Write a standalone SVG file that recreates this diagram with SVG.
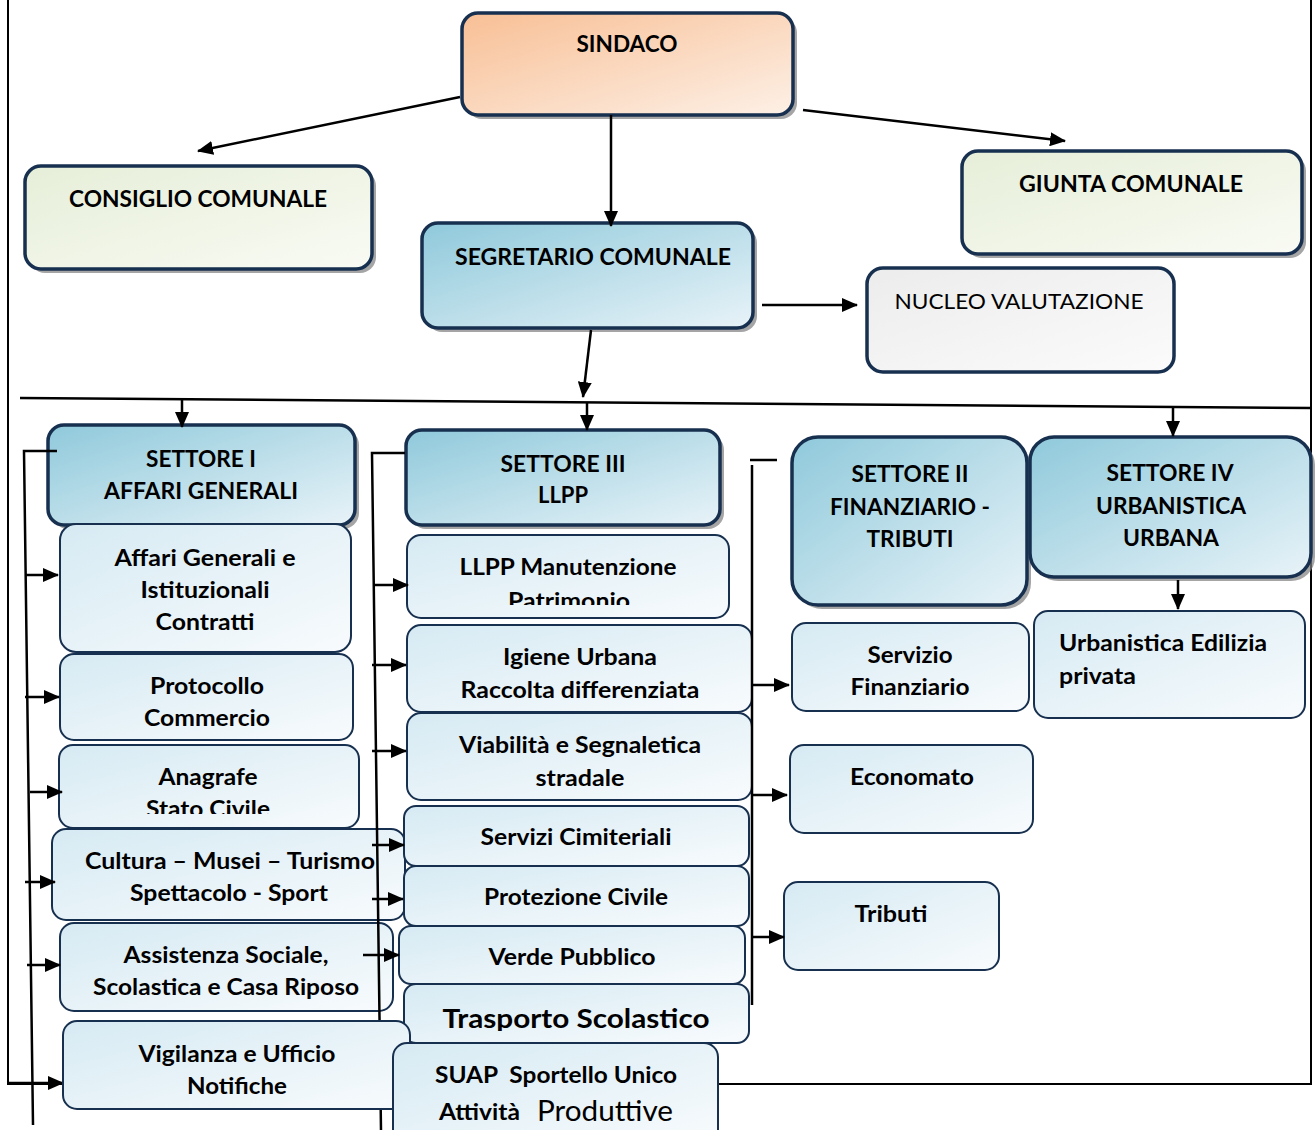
<svg xmlns="http://www.w3.org/2000/svg" width="1316" height="1130" viewBox="0 0 1316 1130">
<defs>
<linearGradient id="gOrange" x1="0" y1="0" x2="1" y2="1"><stop offset="0" stop-color="#f8bf95"/><stop offset="1" stop-color="#fdf0e6"/></linearGradient>
<linearGradient id="gGreen" x1="0" y1="0" x2="1" y2="1"><stop offset="0" stop-color="#e6eed8"/><stop offset="1" stop-color="#f9fbf4"/></linearGradient>
<linearGradient id="gGray" x1="0" y1="0" x2="1" y2="1"><stop offset="0" stop-color="#ececec"/><stop offset="1" stop-color="#fbfbfb"/></linearGradient>
<linearGradient id="gBlue" x1="0" y1="0" x2="1" y2="1"><stop offset="0" stop-color="#8fc9db"/><stop offset="1" stop-color="#e8f3f8"/></linearGradient>
<linearGradient id="gLight" x1="0" y1="0" x2="1" y2="1"><stop offset="0" stop-color="#d6eaf3"/><stop offset="1" stop-color="#f8fbfd"/></linearGradient>
<marker id="ah" viewBox="0 0 16 14" markerWidth="16" markerHeight="14" refX="15" refY="7" orient="auto" markerUnits="userSpaceOnUse"><path d="M0,0 L16,7 L0,14 z" fill="#000"/></marker>
<clipPath id="cAnag"><rect x="0" y="0" width="1316" height="814"/></clipPath>
<clipPath id="cPatr"><rect x="0" y="0" width="1316" height="605"/></clipPath>
<clipPath id="cTrasp"><rect x="0" y="0" width="1316" height="1031"/></clipPath>
</defs>
<style>
text{font-family:Lato,"Liberation Sans",sans-serif;font-weight:bold;font-size:22px;fill:#000;text-anchor:middle}
.reg{font-weight:normal}
.st{text-anchor:start}
.main{stroke:#17304f;stroke-width:3.5}
.sub{stroke:#17304f;stroke-width:2;fill:url(#gLight)}
.shadow{fill:#7f7f7f;opacity:0.7}
.conn line,.conn path{stroke:#000;stroke-width:2.5;fill:none}
.arr{marker-end:url(#ah)}
</style>
<rect width="1316" height="1130" fill="#fff"/>
<path d="M8,0 V1084 H1311 V0" fill="none" stroke="#000" stroke-width="2"/>

<g id="sindaco"><rect class="shadow" x="466" y="17" width="331" height="102" rx="16"/><rect class="main" x="462" y="13" width="331" height="102" rx="16" fill="url(#gOrange)"/><text x="627" y="52" textLength="101" lengthAdjust="spacingAndGlyphs">SINDACO</text></g>
<g id="consiglio"><rect class="shadow" x="29" y="170" width="347" height="103" rx="16"/><rect class="main" x="25" y="166" width="347" height="103" rx="16" fill="url(#gGreen)"/><text x="198" y="207" textLength="258" lengthAdjust="spacingAndGlyphs">CONSIGLIO COMUNALE</text></g>
<g id="giunta"><rect class="shadow" x="966" y="155" width="340" height="103" rx="16"/><rect class="main" x="962" y="151" width="340" height="103" rx="16" fill="url(#gGreen)"/><text x="1131" y="192" textLength="224" lengthAdjust="spacingAndGlyphs">GIUNTA COMUNALE</text></g>
<g id="segretario"><rect class="shadow" x="426" y="227" width="331" height="105" rx="16"/><rect class="main" x="422" y="223" width="331" height="105" rx="16" fill="url(#gBlue)"/><text x="593" y="265" textLength="276" lengthAdjust="spacingAndGlyphs">SEGRETARIO COMUNALE</text></g>
<g id="nucleo"><rect class="main" x="867" y="268" width="307" height="104" rx="16" fill="url(#gGray)"/><text class="reg" x="1019" y="309" textLength="249" lengthAdjust="spacingAndGlyphs">NUCLEO VALUTAZIONE</text></g>

<g id="settore1"><rect class="shadow" x="52" y="429" width="307" height="100" rx="16"/><rect class="main" x="48" y="425" width="307" height="100" rx="16" fill="url(#gBlue)"/><text x="201" y="467" textLength="110" lengthAdjust="spacingAndGlyphs">SETTORE I</text><text x="201" y="499" textLength="194" lengthAdjust="spacingAndGlyphs">AFFARI GENERALI</text></g>
<g id="affari"><rect class="sub" x="60" y="524" width="291" height="128" rx="16"/><text x="205" y="566" textLength="181" lengthAdjust="spacingAndGlyphs">Affari Generali e</text><text x="205" y="598" textLength="129" lengthAdjust="spacingAndGlyphs">Istituzionali</text><text x="205" y="630" textLength="99" lengthAdjust="spacingAndGlyphs">Contratti</text></g>
<g id="protocollo"><rect class="sub" x="60" y="654" width="293" height="86" rx="14"/><text x="207" y="694" textLength="114" lengthAdjust="spacingAndGlyphs">Protocollo</text><text x="207" y="726" textLength="126" lengthAdjust="spacingAndGlyphs">Commercio</text></g>
<g id="anagrafe"><rect class="sub" x="59" y="745" width="300" height="83" rx="14"/><text x="208" y="785" textLength="99" lengthAdjust="spacingAndGlyphs">Anagrafe</text><text x="208" y="817" textLength="124" lengthAdjust="spacingAndGlyphs" clip-path="url(#cAnag)">Stato Civile</text></g>
<g id="cultura"><rect class="sub" x="52" y="829" width="353" height="91" rx="14"/><text x="230" y="869" textLength="290" lengthAdjust="spacingAndGlyphs">Cultura – Musei – Turismo</text><text x="229" y="901" textLength="198" lengthAdjust="spacingAndGlyphs">Spettacolo - Sport</text></g>
<g id="assistenza"><rect class="sub" x="60" y="923" width="333" height="88" rx="14"/><text x="226" y="963" textLength="205" lengthAdjust="spacingAndGlyphs">Assistenza Sociale,</text><text x="226" y="995" textLength="266" lengthAdjust="spacingAndGlyphs">Scolastica e Casa Riposo</text></g>

<g id="settore3"><rect class="shadow" x="410" y="434" width="314" height="95" rx="16"/><rect class="main" x="406" y="430" width="314" height="95" rx="16" fill="url(#gBlue)"/><text x="563" y="472" textLength="125" lengthAdjust="spacingAndGlyphs">SETTORE III</text><text x="563" y="503" textLength="50" lengthAdjust="spacingAndGlyphs">LLPP</text></g>
<g id="llpp"><rect class="sub" x="407" y="535" width="322" height="83" rx="14"/><text x="568" y="575" textLength="217" lengthAdjust="spacingAndGlyphs">LLPP Manutenzione</text><text x="569" y="609" textLength="122" lengthAdjust="spacingAndGlyphs" clip-path="url(#cPatr)">Patrimonio</text></g>
<g id="igiene"><rect class="sub" x="407" y="625" width="345" height="87" rx="14"/><text x="580" y="665" textLength="154" lengthAdjust="spacingAndGlyphs">Igiene Urbana</text><text x="580" y="698" textLength="239" lengthAdjust="spacingAndGlyphs">Raccolta differenziata</text></g>
<g id="viabilita"><rect class="sub" x="407" y="713" width="345" height="87" rx="14"/><text x="580" y="753" textLength="242" lengthAdjust="spacingAndGlyphs">Viabilità e Segnaletica</text><text x="580" y="786" textLength="89" lengthAdjust="spacingAndGlyphs">stradale</text></g>
<g id="cimiteriali"><rect class="sub" x="404" y="806" width="345" height="60" rx="12"/><text x="576" y="845" textLength="191" lengthAdjust="spacingAndGlyphs">Servizi Cimiteriali</text></g>
<g id="protezione"><rect class="sub" x="404" y="866" width="345" height="60" rx="12"/><text x="576" y="905" textLength="184" lengthAdjust="spacingAndGlyphs">Protezione Civile</text></g>
<g id="verde"><rect class="sub" x="399" y="926" width="346" height="58" rx="12"/><text x="572" y="965" textLength="167" lengthAdjust="spacingAndGlyphs">Verde Pubblico</text></g>
<g id="trasporto"><rect class="sub" x="404" y="984" width="345" height="59" rx="12"/><text x="576" y="1028" style="font-size:27px" textLength="267" lengthAdjust="spacingAndGlyphs" clip-path="url(#cTrasp)">Trasporto Scolastico</text></g>

<g id="settore2"><rect class="shadow" x="796" y="441" width="235" height="168" rx="26"/><rect class="main" x="792" y="437" width="235" height="168" rx="26" fill="url(#gBlue)"/><text x="910" y="482" textLength="117" lengthAdjust="spacingAndGlyphs">SETTORE II</text><text x="910" y="515" textLength="160" lengthAdjust="spacingAndGlyphs">FINANZIARIO -</text><text x="910" y="547" textLength="87" lengthAdjust="spacingAndGlyphs">TRIBUTI</text></g>
<g id="settore4"><rect class="shadow" x="1034" y="441" width="281" height="140" rx="24"/><rect class="main" x="1030" y="437" width="281" height="140" rx="24" fill="url(#gBlue)"/><text x="1170" y="481" textLength="127" lengthAdjust="spacingAndGlyphs">SETTORE IV</text><text x="1171" y="514" textLength="150" lengthAdjust="spacingAndGlyphs">URBANISTICA</text><text x="1171" y="546" textLength="96" lengthAdjust="spacingAndGlyphs">URBANA</text></g>
<g id="urbanistica"><rect class="sub" x="1034" y="611" width="271" height="107" rx="14"/><text class="st" x="1059" y="651" textLength="208" lengthAdjust="spacingAndGlyphs">Urbanistica Edilizia</text><text class="st" x="1059" y="684" textLength="77" lengthAdjust="spacingAndGlyphs">privata</text></g>
<g id="finanziario"><rect class="sub" x="792" y="623" width="237" height="88" rx="14"/><text x="910" y="663" textLength="85" lengthAdjust="spacingAndGlyphs">Servizio</text><text x="910" y="695" textLength="119" lengthAdjust="spacingAndGlyphs">Finanziario</text></g>
<g id="economato"><rect class="sub" x="790" y="745" width="243" height="88" rx="14"/><text x="912" y="785" textLength="124" lengthAdjust="spacingAndGlyphs">Economato</text></g>
<g id="tributi"><rect class="sub" x="784" y="882" width="215" height="88" rx="14"/><text x="891" y="922" textLength="73" lengthAdjust="spacingAndGlyphs">Tributi</text></g>

<g id="connectors" class="conn">
<line class="arr" x1="460" y1="97" x2="198" y2="151"/>
<line class="arr" x1="803" y1="110" x2="1065" y2="141"/>
<line class="arr" x1="611" y1="115" x2="611" y2="226"/>
<line class="arr" x1="762" y1="305" x2="857" y2="305"/>
<line class="arr" x1="591" y1="330" x2="583" y2="397"/>
<line x1="20" y1="398" x2="1311" y2="408"/>
<line class="arr" x1="182" y1="400" x2="182" y2="427"/>
<line class="arr" x1="587" y1="402" x2="587" y2="430"/>
<line class="arr" x1="1173" y1="407" x2="1173" y2="436"/>
<path d="M57,451 H24 L33,1125"/>
<line class="arr" x1="25" y1="575" x2="58" y2="575"/>
<line class="arr" x1="25" y1="697" x2="59" y2="697"/>
<line class="arr" x1="30" y1="792" x2="62" y2="792"/>
<line class="arr" x1="25" y1="882" x2="55" y2="882"/>
<line class="arr" x1="27" y1="965" x2="60" y2="965"/>
<line class="arr" x1="8" y1="1083" x2="63" y2="1083"/>
<path d="M405,453 H372 L381,1130"/>
<line class="arr" x1="375" y1="585" x2="408" y2="585"/>
<line class="arr" x1="372" y1="665" x2="406" y2="665"/>
<line class="arr" x1="372" y1="751" x2="406" y2="751"/>
<line class="arr" x1="372" y1="845" x2="404" y2="845"/>
<line class="arr" x1="372" y1="899" x2="403" y2="899"/>
<line class="arr" x1="363" y1="955" x2="399" y2="955"/>
<line x1="750" y1="460" x2="777" y2="460"/>
<line x1="752" y1="465" x2="752" y2="1005"/>
<line class="arr" x1="752" y1="685" x2="789" y2="685"/>
<line class="arr" x1="752" y1="795" x2="787" y2="795"/>
<line class="arr" x1="752" y1="937" x2="784" y2="937"/>
<line class="arr" x1="1178" y1="580" x2="1178" y2="609"/>
</g>

<g id="vigilanza"><rect class="sub" x="63" y="1021" width="347" height="88" rx="14"/><text x="237" y="1062" textLength="197" lengthAdjust="spacingAndGlyphs">Vigilanza e Ufficio</text><text x="237" y="1094" textLength="100" lengthAdjust="spacingAndGlyphs">Notifiche</text></g>
<g id="suap"><rect class="sub" x="393" y="1043" width="325" height="100" rx="14"/><text x="556" y="1083" xml:space="preserve" textLength="242" lengthAdjust="spacingAndGlyphs">SUAP  Sportello Unico</text><text class="st" x="439" y="1120" textLength="81" lengthAdjust="spacingAndGlyphs">Attività</text><text class="st reg" x="537" y="1121" style="font-size:28px" textLength="136" lengthAdjust="spacingAndGlyphs">Produttive</text></g>
</svg>
